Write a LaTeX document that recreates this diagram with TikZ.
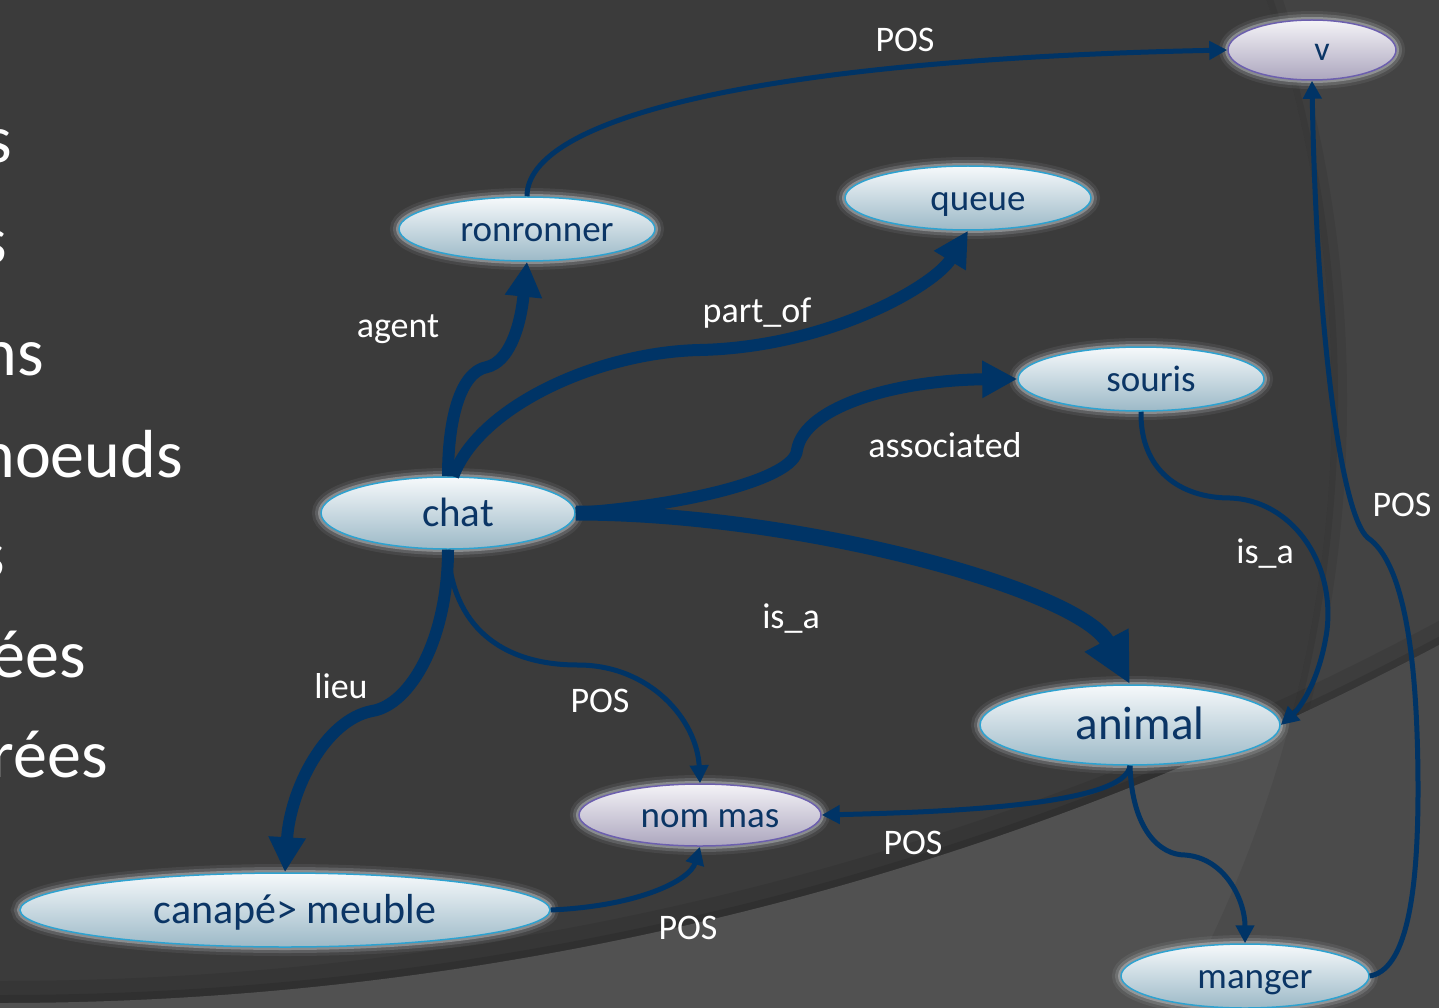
\documentclass[tikz,border=0pt]{standalone}
\usepackage{fontspec}
\setmainfont{Carlito}
\usetikzlibrary{arrows.meta,shapes.geometric}
\definecolor{bgdark}{HTML}{3B3B3B}
\definecolor{bgright}{HTML}{434343}
\definecolor{bgbot}{HTML}{515151}
\definecolor{edgec}{RGB}{0,52,102}
\definecolor{txtblue}{HTML}{0B3565}
\definecolor{bborder}{HTML}{2EA2D0}
\definecolor{btop}{HTML}{F6F9FB}
\definecolor{bbot}{HTML}{9CB9C7}
\definecolor{pborder}{HTML}{6C5FAE}
\definecolor{ptop}{HTML}{F4F3F7}
\definecolor{pbot}{HTML}{ACA6BE}
\definecolor{glowc}{HTML}{DCE0E4}
\tikzset{
  nodebase/.style={ellipse, inner sep=0pt, text=txtblue, line width=1.5pt,
    execute at begin node={\hspace*{20pt}},
    preaction={draw=glowc, line width=18pt, opacity=0.08},
    preaction={draw=glowc, line width=12pt, opacity=0.16},
    preaction={draw=glowc, line width=6pt, opacity=0.35}},
  bluenode/.style={nodebase, draw=bborder, top color=btop, bottom color=bbot},
  purplenode/.style={nodebase, draw=pborder, top color=ptop, bottom color=pbot},
  fs34/.style={font=\fontsize{34}{38}\selectfont, text height=27pt, text depth=5pt},
  fs37/.style={font=\fontsize{37}{42}\selectfont, text height=29.6pt, text depth=5.1pt},
  fs41/.style={font=\fontsize{41}{46}\selectfont, text height=32.5pt, text depth=6pt},
  fs42/.style={font=\fontsize{42}{47}\selectfont, text height=33.2pt, text depth=6.2pt},
  fs47/.style={font=\fontsize{47}{52}\selectfont, text height=36.8pt, text depth=7.3pt},
  lbl/.style={text=white, inner sep=0pt, font=\fontsize{36}{40}\selectfont, text height=28.5pt, text depth=5.5pt},
  lefttxt/.style={text=white, inner sep=0pt, font=\fontsize{68}{80}\selectfont, anchor=base east},
  thin/.style={draw=edgec, line width=5pt, -{Triangle[length=18pt,width=18pt]}},
  thick/.style={draw=edgec, line width=12pt, -{Triangle[length=35pt,width=35pt]}},
  thickest/.style={draw=edgec, line width=15pt, -{Triangle[length=50pt,width=46pt]}},
}
\begin{document}
\begin{tikzpicture}[x=1pt,y=-1pt]
\useasboundingbox (0,0) rectangle (1439,1008);
\clip (0,0) rectangle (1439,1008);
% background
\fill[bgdark] (0,0) rectangle (1439,1008);
\fill[bgright] (72,400) ++(40:1260pt) arc[start angle=40,end angle=-60,radius=1260pt] -- (1700,1700) -- (1700,-600) -- cycle;
\begin{scope}
  \clip (72,400) ++(40:1260pt) arc[start angle=40,end angle=-60,radius=1260pt] -- (1700,1700) -- (1700,-600) -- cycle;
  \draw[black, opacity=0.07, line width=30pt] (72,400) circle[radius=1260pt];
  \draw[black, opacity=0.08, line width=12pt] (72,400) circle[radius=1260pt];
\end{scope}
\draw[black, opacity=0.08, line width=44pt] (0,-2068) circle[radius=3071pt];
\draw[black, opacity=0.10, line width=16pt] (0,-2068) circle[radius=3071pt];
\fill[bgbot] (0,-2068) ++(-90:3071pt) arc[start angle=-90,end angle=-60,radius=3071pt] -- (1700,1700) -- (-100,1700) -- cycle;
\begin{scope}
  \clip (0,-2068) ++(-90:3071pt) arc[start angle=-90,end angle=-60,radius=3071pt] -- (1700,1700) -- (-100,1700) -- cycle;
  \fill[black, opacity=0.07] (72,400) ++(40:1260pt) arc[start angle=40,end angle=-60,radius=1260pt] -- (1700,1700) -- (1700,-600) -- cycle;
\end{scope}

% cut-off slide text on the left
\node[lefttxt] (t1) at (12,163) {s};
\node[lefttxt] (t2) at (7,263) {s};
\node[lefttxt] (t3) at (44,375) {ns};
\node[lefttxt] (t4) at (183,477) {noeuds};
\node[lefttxt] (t5) at (5,577) {s};
\node[lefttxt] (t6) at (86,677) {ées};
\node[lefttxt] (t7) at (108,777) {rées};

% nodes
\node[purplenode, fs34, minimum width=168pt, minimum height=60pt] (v) at (1312,50) {v};
\node[bluenode, fs37, minimum width=256pt, minimum height=64pt] (ronronner) at (527,229) {ronronner};
\node[bluenode, fs37, minimum width=246pt, minimum height=64pt] (queue) at (968,198) {queue};
\node[bluenode, fs37, minimum width=246pt, minimum height=64pt] (souris) at (1141,379) {souris};
\node[bluenode, fs41, minimum width=254pt, minimum height=72pt] (chat) at (448,513) {chat};
\node[bluenode, fs47, minimum width=300pt, minimum height=80pt] (animal) at (1130,725) {animal};
\node[purplenode, fs37, minimum width=242pt, minimum height=62pt] (nommas) at (700,815) {nom mas};
\node[bluenode, fs42, minimum width=530pt, minimum height=74pt] (canape) at (285,910) {canapé> meuble};
\node[bluenode, fs37, minimum width=248pt, minimum height=64pt] (manger) at (1245,976) {manger};

% connectors
\draw[thin] (ronronner.north) .. controls (527,120) and (750,60) .. (v.west);
\draw[thin] (manger.east) .. controls (1405,970) and (1418,900) .. (1418,790)
   .. controls (1418,640) and (1400,560) .. (1368,538)
   .. controls (1340,515) and (1316,320) .. (v.south);
\draw[thick] (chat.north) .. controls (448,420) and (460,372) .. (487,367)
   .. controls (508,362) and (520,330) .. (ronronner.south);
\draw[thick] (chat.82) .. controls (480,405) and (600,352) .. (700,350)
   .. controls (830,347) and (935,285) .. (queue.south);
\draw[thick] (chat.east) .. controls (690,505) and (795,478) .. (797,450)
   .. controls (805,405) and (900,380) .. (souris.west);
\draw[thickest] (chat.east) .. controls (800,513) and (1080,590) .. (animal.north);
\draw[thick] (chat.south) .. controls (448,640) and (410,705) .. (372,711)
   .. controls (325,720) and (290,790) .. (canape.north);
\draw[thin] (chat.south) .. controls (452,625) and (500,665) .. (578,665)
   .. controls (650,665) and (697,720) .. (nommas.north);
\draw[thin] (canape.east) .. controls (640,906) and (690,880) .. (nommas.south);
\draw[thin] (animal.south) .. controls (1125,805) and (950,812) .. (nommas.east);
\draw[thin] (animal.south) .. controls (1132,830) and (1160,855) .. (1185,855)
   .. controls (1225,858) and (1245,900) .. (manger.north);
\draw[thin] (souris.south) .. controls (1140,470) and (1180,498) .. (1230,498)
   .. controls (1290,500) and (1335,560) .. (1327,630)
   .. controls (1320,680) and (1300,708) .. (animal.east);

% labels
\node[lbl] (l1) at (905,40) {POS};
\node[lbl] (l2) at (398,326) {agent};
\node[lbl] (l3) at (757,311) {part\_of};
\node[lbl] (l4) at (945,446) {associated};
\node[lbl] (l5) at (791,617) {is\_a};
\node[lbl] (l6) at (1265,552) {is\_a};
\node[lbl] (l7) at (1402,505) {POS};
\node[lbl] (l8) at (341,687) {lieu};
\node[lbl] (l9) at (600,701) {POS};
\node[lbl] (l10) at (913,843) {POS};
\node[lbl] (l11) at (688,928) {POS};
\end{tikzpicture}
\end{document}
